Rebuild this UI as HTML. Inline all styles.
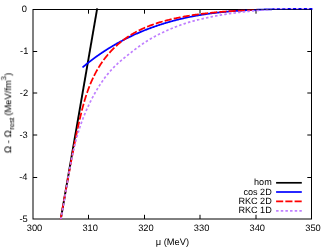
<!DOCTYPE html>
<html><head><meta charset="utf-8"><style>
html,body{margin:0;padding:0;background:#fff;width:332px;height:249px;overflow:hidden;font-family:"Liberation Sans",sans-serif;}
</style></head><body>
<svg width="332" height="249" viewBox="0 0 332 249" style="position:absolute;left:0;top:0">
<rect width="332" height="249" fill="#fff"/>
<filter id="b" x="0" y="0" width="332" height="249" filterUnits="userSpaceOnUse" color-interpolation-filters="sRGB"><feGaussianBlur stdDeviation="0.3"/></filter>
<g filter="url(#b)">
<rect width="332" height="249" fill="#fff"/>
<g stroke="#000" stroke-width="1" fill="none">
<rect x="33.0" y="9.5" width="278.5" height="209.5"/>
<path d="M88.50,219.0 v-4.2 M88.50,9.5 v4.2"/>
<path d="M144.50,219.0 v-4.2 M144.50,9.5 v4.2"/>
<path d="M200.00,219.0 v-4.2 M200.00,9.5 v4.2"/>
<path d="M256.00,219.0 v-4.2 M256.00,9.5 v4.2"/>
<path d="M33.0,51.50 h4.2 M311.5,51.50 h-4.2"/>
<path d="M33.0,93.00 h4.2 M311.5,93.00 h-4.2"/>
<path d="M33.0,135.00 h4.2 M311.5,135.00 h-4.2"/>
<path d="M33.0,177.50 h4.2 M311.5,177.50 h-4.2"/>
</g>
<g font-family="Liberation Sans, sans-serif" font-size="9.3" fill="#000" text-rendering="geometricPrecision">
<text x="34.50" y="231" text-anchor="middle">300</text>
<text x="90.20" y="231" text-anchor="middle">310</text>
<text x="145.90" y="231" text-anchor="middle">320</text>
<text x="201.60" y="231" text-anchor="middle">330</text>
<text x="257.30" y="231" text-anchor="middle">340</text>
<text x="313.00" y="231" text-anchor="middle">350</text>
<text x="27.0" y="11.70" text-anchor="end">0</text>
<text x="28.4" y="53.70" text-anchor="end">-1</text>
<text x="28.1" y="95.50" text-anchor="end">-2</text>
<text x="27.8" y="137.70" text-anchor="end">-3</text>
<text x="27.5" y="180.30" text-anchor="end">-4</text>
<text x="27.8" y="222.20" text-anchor="end">-5</text>
<text x="172.4" y="244.5" text-anchor="middle">μ (MeV)</text>
<text transform="translate(11.2,153.4) rotate(-90)" text-anchor="start"><tspan x="0.2" y="0" font-size="9.6">Ω - Ω</tspan><tspan x="23.6" y="2.7" font-size="7.4">rest</tspan><tspan x="37.7" y="0" font-size="9.4">(MeV/fm</tspan><tspan x="72.9" y="-5" font-size="7.4">3</tspan><tspan x="77.5" y="0" font-size="9.4">)</tspan></text>
<text x="271.75" y="184.95" text-anchor="end" font-size="9.1">hom</text>
<text x="271.75" y="195.00" text-anchor="end" font-size="9.1">cos 2D</text>
<text x="271.75" y="204.30" text-anchor="end" font-size="9.1">RKC 2D</text>
<text x="271.75" y="212.80" text-anchor="end" font-size="9.1">RKC 1D</text>
</g>
<clipPath id="c"><rect x="32" y="8" width="282" height="211.5"/></clipPath>
<g fill="none" stroke-width="1.75" clip-path="url(#c)">
<path d="M60.80,219.00 L97.20,8.30" stroke="#000" stroke-width="1.9"/>
<path d="M82.46,67.45 L82.94,67.05 L83.41,66.65 L83.89,66.25 L84.37,65.85 L84.85,65.46 L85.33,65.06 L85.81,64.67 L86.29,64.28 L86.77,63.89 L87.26,63.50 L87.74,63.11 L88.23,62.73 L88.71,62.35 L89.20,61.96 L89.69,61.58 L90.18,61.20 L90.67,60.83 L91.16,60.45 L91.65,60.08 L92.14,59.71 L92.64,59.34 L93.13,58.97 L93.62,58.60 L94.12,58.23 L94.62,57.87 L95.12,57.50 L95.61,57.14 L96.11,56.78 L96.61,56.42 L97.11,56.07 L97.62,55.71 L98.12,55.36 L98.62,55.01 L99.13,54.66 L99.63,54.31 L100.14,53.96 L100.64,53.61 L101.15,53.27 L101.66,52.92 L102.17,52.58 L102.68,52.24 L103.19,51.90 L103.70,51.57 L104.21,51.23 L104.73,50.90 L105.24,50.57 L105.76,50.23 L106.27,49.90 L106.79,49.58 L107.30,49.25 L107.82,48.93 L108.34,48.60 L108.86,48.28 L109.38,47.96 L109.90,47.64 L110.42,47.32 L110.95,47.01 L111.47,46.69 L111.99,46.38 L112.52,46.07 L113.04,45.76 L113.57,45.45 L114.10,45.14 L114.62,44.84 L115.15,44.53 L115.68,44.23 L116.21,43.93 L116.74,43.63 L117.27,43.33 L117.80,43.04 L118.34,42.74 L118.87,42.45 L119.40,42.16 L119.94,41.86 L120.47,41.58 L121.01,41.29 L121.55,41.00 L122.09,40.72 L122.62,40.43 L123.16,40.15 L123.70,39.87 L124.24,39.59 L124.78,39.31 L125.32,39.04 L125.87,38.76 L126.41,38.49 L126.95,38.22 L127.50,37.95 L128.04,37.68 L128.59,37.41 L129.13,37.15 L129.68,36.88 L130.23,36.62 L130.78,36.36 L131.32,36.10 L131.87,35.84 L132.42,35.58 L132.97,35.33 L133.53,35.07 L134.08,34.82 L134.63,34.57 L135.18,34.32 L135.74,34.07 L136.29,33.82 L136.85,33.58 L137.40,33.33 L137.96,33.09 L138.51,32.85 L139.07,32.61 L139.63,32.37 L140.19,32.13 L140.75,31.90 L141.31,31.66 L141.87,31.43 L142.43,31.20 L142.99,30.97 L143.55,30.74 L144.11,30.51 L144.68,30.29 L145.24,30.06 L145.80,29.84 L146.37,29.62 L146.93,29.40 L147.50,29.18 L148.06,28.96 L148.63,28.74 L149.20,28.53 L149.77,28.32 L150.34,28.10 L150.90,27.89 L151.47,27.68 L152.04,27.48 L152.61,27.27 L153.18,27.07 L153.76,26.86 L154.33,26.66 L154.90,26.46 L155.47,26.26 L156.05,26.06 L156.62,25.87 L157.20,25.67 L157.77,25.48 L158.35,25.28 L158.92,25.09 L159.50,24.90 L160.08,24.71 L160.65,24.53 L161.23,24.34 L161.81,24.16 L162.39,23.97 L162.97,23.79 L163.55,23.61 L164.13,23.43 L164.71,23.26 L165.29,23.08 L165.87,22.90 L166.45,22.73 L167.03,22.56 L167.62,22.39 L168.20,22.22 L168.78,22.05 L169.37,21.88 L169.95,21.72 L170.54,21.55 L171.12,21.39 L171.71,21.23 L172.29,21.07 L172.88,20.91 L173.47,20.75 L174.05,20.60 L174.64,20.44 L175.23,20.29 L175.82,20.14 L176.41,19.99 L177.00,19.84 L177.59,19.69 L178.18,19.54 L178.77,19.40 L179.36,19.25 L179.95,19.11 L180.54,18.97 L181.13,18.83 L181.72,18.69 L182.32,18.55 L182.91,18.41 L183.50,18.28 L184.10,18.15 L184.69,18.01 L185.28,17.88 L185.88,17.75 L186.47,17.62 L187.07,17.50 L187.66,17.37 L188.26,17.25 L188.86,17.12 L189.45,17.00 L190.05,16.88 L190.65,16.76 L191.24,16.64 L191.84,16.53 L192.44,16.41 L193.04,16.30 L193.64,16.18 L194.24,16.07 L194.84,15.96 L195.43,15.85 L196.03,15.74 L196.63,15.64 L197.24,15.53 L197.84,15.43 L198.44,15.32 L199.04,15.22 L199.64,15.12 L200.24,15.02 L200.84,14.92 L201.45,14.82 L202.05,14.73 L202.65,14.63 L203.25,14.54 L203.86,14.44 L204.46,14.35 L205.06,14.26 L205.67,14.17 L206.27,14.08 L206.88,13.99 L207.48,13.91 L208.09,13.82 L208.69,13.74 L209.30,13.66 L209.90,13.57 L210.51,13.49 L211.11,13.41 L211.72,13.33 L212.33,13.25 L212.93,13.18 L213.54,13.10 L214.15,13.03 L214.75,12.95 L215.36,12.88 L215.97,12.81 L216.57,12.73 L217.18,12.66 L217.79,12.59 L218.40,12.53 L219.01,12.46 L219.61,12.39 L220.22,12.33 L220.83,12.26 L221.44,12.20 L222.05,12.13 L222.66,12.07 L223.27,12.01 L223.88,11.95 L224.49,11.89 L225.10,11.83 L225.71,11.77 L226.32,11.72 L226.93,11.66 L227.54,11.60 L228.15,11.55 L228.76,11.49 L229.37,11.44 L229.98,11.39 L230.59,11.34 L231.20,11.29 L231.81,11.24 L232.42,11.19 L233.03,11.14 L233.64,11.09 L234.26,11.04 L234.87,11.00 L235.48,10.95 L236.09,10.91 L236.70,10.86 L237.31,10.82 L237.93,10.78 L238.54,10.73 L239.15,10.69 L239.76,10.65 L240.37,10.61 L240.98,10.57 L241.60,10.53 L242.21,10.50 L242.82,10.46 L243.43,10.42 L244.05,10.38 L244.66,10.35 L245.27,10.31 L245.88,10.28 L246.49,10.24 L247.11,10.21 L247.72,10.18 L248.33,10.15 L248.94,10.11 L249.56,10.08 L250.17,10.05 L250.78,10.02 L251.39,9.99 L252.01,9.96 L252.62,9.93 L253.23,9.91 L253.84,9.88 L254.46,9.85 L255.07,9.82 L255.68,9.80 L256.29,9.77 L256.90,9.75 L257.52,9.72 L258.13,9.70 L258.74,9.67 L259.35,9.65 L259.97,9.63 L260.58,9.60 L261.19,9.58 L261.80,9.56 L262.41,9.54 L263.02,9.52 L263.64,9.50 L264.25,9.48 L264.86,9.46 L265.47,9.44 L266.08,9.42 L266.69,9.40 L267.31,9.38 L267.92,9.36 L268.53,9.35 L269.14,9.33 L269.75,9.31 L270.36,9.30 L270.97,9.28 L271.58,9.27 L272.19,9.25 L272.80,9.24 L273.41,9.22 L274.02,9.21 L274.63,9.19 L275.24,9.18 L275.85,9.17 L276.46,9.16 L277.07,9.14 L277.68,9.13 L278.29,9.12 L278.90,9.11 L279.51,9.10 L280.12,9.09 L280.72,9.07 L281.33,9.06 L281.94,9.05 L282.55,9.04 L283.16,9.03 L283.76,9.03 L284.37,9.02 L284.98,9.01 L285.59,9.00 L286.19,8.99 L286.80,8.98 L287.41,8.98 L288.01,8.97 L288.62,8.96 L289.23,8.95 L289.83,8.95 L290.44,8.94 L291.04,8.93 L291.65,8.93 L292.25,8.92 L292.86,8.91 L293.46,8.91 L294.07,8.90 L294.67,8.90 L295.28,8.89 L295.88,8.89 L296.48,8.88 L297.09,8.88 L297.69,8.87 L298.29,8.87 L298.89,8.87 L299.50,8.86 L300.10,8.86 L300.70,8.85 L301.30,8.85 L301.90,8.85 L302.50,8.84 L303.10,8.84 L303.71,8.84 L304.31,8.83 L304.91,8.83 L305.50,8.83 L306.10,8.82 L306.70,8.82 L307.30,8.82 L307.90,8.82 L308.50,8.81 L309.10,8.81 L309.69,8.81 L310.29,8.81 L310.89,8.80 L311.48,8.80 L312.08,8.80 L312.68,8.80" stroke="#0000ff"/>
<path d="M60.64,219.58 L60.79,218.75 L60.93,217.91 L61.07,217.08 L61.21,216.25 L61.36,215.41 L61.50,214.58 L61.65,213.75 L61.79,212.92 L61.94,212.09 L62.08,211.26 L62.23,210.43 L62.37,209.60 L62.52,208.77 L62.67,207.94 L62.81,207.11 L62.96,206.28 L63.11,205.45 L63.25,204.62 L63.40,203.80 L63.55,202.97 L63.70,202.14 L63.84,201.31 L63.99,200.49 L64.14,199.66 L64.29,198.84 L64.44,198.01 L64.59,197.19 L64.74,196.36 L64.88,195.54 L65.03,194.71 L65.18,193.89 L65.33,193.06 L65.48,192.24 L65.63,191.42 L65.78,190.59 L65.93,189.77 L66.08,188.95 L66.23,188.12 L66.38,187.30 L66.53,186.48 L66.68,185.66 L66.83,184.84 L66.98,184.02 L67.13,183.19 L67.28,182.37 L67.43,181.55 L67.58,180.73 L67.74,179.91 L67.89,179.09 L68.04,178.27 L68.19,177.45 L68.34,176.63 L68.49,175.81 L68.64,174.99 L68.79,174.17 L68.94,173.35 L69.09,172.54 L69.24,171.72 L69.39,170.90 L69.54,170.08 L69.69,169.26 L69.84,168.44 L69.99,167.62 L70.14,166.81 L70.29,165.99 L70.44,165.17 L70.60,164.35 L70.75,163.54 L70.90,162.72 L71.05,161.90 L71.20,161.08 L71.35,160.27 L71.51,159.45 L71.66,158.63 L71.81,157.81 L71.97,157.00 L72.12,156.18 L72.28,155.36 L72.43,154.55 L72.59,153.73 L72.74,152.91 L72.90,152.09 L73.05,151.28 L73.21,150.46 L73.37,149.64 L73.53,148.83 L73.69,148.01 L73.84,147.19 L74.00,146.38 L74.17,145.56 L74.33,144.74 L74.49,143.93 L74.65,143.11 L74.81,142.29 L74.98,141.47 L75.14,140.66 L75.31,139.84 L75.47,139.02 L75.64,138.21 L75.81,137.39 L75.97,136.57 L76.14,135.75 L76.31,134.94 L76.48,134.12 L76.66,133.30 L76.83,132.48 L77.00,131.66 L77.18,130.85 L77.35,130.03 L77.53,129.21 L77.70,128.39 L77.88,127.57 L78.06,126.75 L78.24,125.94 L78.42,125.12 L78.60,124.30 L78.79,123.48 L78.97,122.66 L79.16,121.84 L79.35,121.02 L79.53,120.20 L79.72,119.38 L79.91,118.56 L80.10,117.74 L80.30,116.92 L80.49,116.10 L80.69,115.28 L80.89,114.46 L81.09,113.64 L81.29,112.82 L81.49,112.00 L81.69,111.19 L81.90,110.37 L82.11,109.55 L82.32,108.73 L82.54,107.92 L82.75,107.10 L82.97,106.28 L83.19,105.47 L83.41,104.66 L83.64,103.84 L83.87,103.03 L84.10,102.22 L84.34,101.41 L84.57,100.60 L84.81,99.79 L85.06,98.99 L85.30,98.18 L85.55,97.38 L85.81,96.57 L86.06,95.77 L86.32,94.97 L86.59,94.17 L86.85,93.38 L87.13,92.58 L87.40,91.79 L87.68,91.00 L87.96,90.21 L88.25,89.42 L88.54,88.63 L88.83,87.85 L89.13,87.07 L89.44,86.28 L89.74,85.51 L90.06,84.73 L90.37,83.96 L90.70,83.18 L91.02,82.42 L91.35,81.65 L91.69,80.88 L92.03,80.12 L92.37,79.36 L92.72,78.61 L93.08,77.85 L93.44,77.10 L93.80,76.35 L94.17,75.60 L94.55,74.86 L94.92,74.12 L95.31,73.38 L95.70,72.65 L96.09,71.92 L96.49,71.19 L96.90,70.47 L97.31,69.74 L97.72,69.03 L98.14,68.31 L98.57,67.60 L99.00,66.89 L99.44,66.19 L99.88,65.49 L100.32,64.79 L100.78,64.09 L101.24,63.40 L101.70,62.72 L102.17,62.04 L102.64,61.36 L103.12,60.68 L103.61,60.01 L104.10,59.35 L104.60,58.68 L105.10,58.02 L105.61,57.37 L106.13,56.72 L106.65,56.08 L107.18,55.43 L107.71,54.80 L108.25,54.17 L108.79,53.54 L109.34,52.91 L109.89,52.30 L110.45,51.68 L111.02,51.07 L111.59,50.47 L112.17,49.87 L112.75,49.27 L113.34,48.68 L113.94,48.10 L114.53,47.52 L115.14,46.94 L115.75,46.37 L116.36,45.81 L116.99,45.25 L117.61,44.69 L118.24,44.14 L118.88,43.60 L119.52,43.06 L120.16,42.53 L120.81,42.00 L121.47,41.48 L122.13,40.96 L122.79,40.45 L123.46,39.94 L124.13,39.44 L124.81,38.95 L125.49,38.46 L126.18,37.98 L126.87,37.50 L127.56,37.03 L128.26,36.56 L128.96,36.10 L129.67,35.65 L130.37,35.20 L131.09,34.76 L131.80,34.33 L132.52,33.90 L133.24,33.48 L133.97,33.06 L134.70,32.65 L135.43,32.25 L136.17,31.85 L136.91,31.46 L137.65,31.07 L138.39,30.70 L139.14,30.32 L139.89,29.96 L140.64,29.59 L141.40,29.24 L142.15,28.89 L142.91,28.54 L143.68,28.20 L144.44,27.87 L145.21,27.54 L145.98,27.22 L146.75,26.90 L147.53,26.59 L148.30,26.28 L149.08,25.98 L149.86,25.68 L150.65,25.38 L151.43,25.10 L152.22,24.81 L153.01,24.53 L153.80,24.26 L154.59,23.99 L155.38,23.72 L156.18,23.46 L156.98,23.20 L157.78,22.95 L158.57,22.70 L159.38,22.45 L160.18,22.21 L160.98,21.97 L161.79,21.74 L162.59,21.51 L163.40,21.28 L164.21,21.06 L165.02,20.84 L165.83,20.63 L166.64,20.41 L167.45,20.20 L168.26,20.00 L169.08,19.80 L169.89,19.60 L170.71,19.40 L171.52,19.21 L172.34,19.01 L173.15,18.83 L173.97,18.64 L174.79,18.46 L175.61,18.28 L176.42,18.10 L177.24,17.93 L178.06,17.76 L178.88,17.59 L179.70,17.42 L180.52,17.26 L181.34,17.10 L182.17,16.94 L182.99,16.78 L183.81,16.63 L184.63,16.48 L185.46,16.33 L186.28,16.19 L187.11,16.04 L187.93,15.90 L188.76,15.76 L189.58,15.63 L190.41,15.49 L191.23,15.36 L192.06,15.23 L192.89,15.11 L193.71,14.98 L194.54,14.86 L195.37,14.74 L196.20,14.62 L197.03,14.50 L197.85,14.39 L198.68,14.27 L199.51,14.16 L200.34,14.05 L201.17,13.95 L202.00,13.84 L202.83,13.74 L203.66,13.64 L204.49,13.54 L205.33,13.44 L206.16,13.34 L206.99,13.25 L207.82,13.16 L208.65,13.07 L209.48,12.98 L210.32,12.89 L211.15,12.80 L211.98,12.72 L212.81,12.63 L213.65,12.55 L214.48,12.47 L215.31,12.39 L216.15,12.32 L216.98,12.24 L217.81,12.16 L218.65,12.09 L219.48,12.02 L220.31,11.95 L221.15,11.88 L221.98,11.81 L222.82,11.74 L223.65,11.68 L224.48,11.61 L225.32,11.55 L226.15,11.48 L226.99,11.42 L227.82,11.36 L228.65,11.30 L229.49,11.24 L230.32,11.18 L231.16,11.12 L231.99,11.07 L232.82,11.01 L233.66,10.96 L234.49,10.90 L235.33,10.85 L236.16,10.80 L236.99,10.74 L237.83,10.69 L238.66,10.64 L239.49,10.59 L240.33,10.54 L241.16,10.49 L241.99,10.44 L242.82,10.39 L243.66,10.35 L244.49,10.30 L245.32,10.25 L246.15,10.20 L246.99,10.16 L247.82,10.11 L248.65,10.06 L249.48,10.02 L250.31,9.97 L251.14,9.93 L251.97,9.88 L252.80,9.84 L253.63,9.79 L254.46,9.75 L255.29,9.70 L256.12,9.66 L256.95,9.61" stroke="#ff0000" stroke-dasharray="7.1,2.15"/>
<path d="M60.80,219.43 L60.99,218.51 L61.17,217.59 L61.35,216.67 L61.53,215.75 L61.71,214.83 L61.89,213.90 L62.06,212.98 L62.24,212.06 L62.41,211.13 L62.58,210.20 L62.75,209.28 L62.92,208.35 L63.09,207.42 L63.25,206.49 L63.42,205.56 L63.58,204.63 L63.75,203.70 L63.91,202.77 L64.07,201.84 L64.23,200.91 L64.39,199.98 L64.55,199.05 L64.71,198.11 L64.87,197.18 L65.02,196.25 L65.18,195.31 L65.34,194.38 L65.50,193.45 L65.65,192.51 L65.81,191.58 L65.96,190.64 L66.12,189.71 L66.28,188.77 L66.43,187.84 L66.59,186.90 L66.74,185.97 L66.90,185.03 L67.06,184.10 L67.22,183.16 L67.37,182.23 L67.53,181.29 L67.69,180.36 L67.85,179.42 L68.01,178.49 L68.17,177.55 L68.33,176.62 L68.50,175.68 L68.66,174.75 L68.82,173.81 L68.99,172.88 L69.16,171.94 L69.32,171.01 L69.49,170.08 L69.66,169.14 L69.84,168.21 L70.01,167.28 L70.18,166.35 L70.36,165.42 L70.54,164.48 L70.72,163.55 L70.90,162.62 L71.08,161.69 L71.27,160.76 L71.45,159.84 L71.64,158.91 L71.83,157.98 L72.03,157.05 L72.22,156.13 L72.42,155.20 L72.62,154.27 L72.82,153.35 L73.02,152.43 L73.23,151.50 L73.44,150.58 L73.65,149.66 L73.87,148.74 L74.08,147.82 L74.30,146.90 L74.53,145.98 L74.75,145.06 L74.98,144.15 L75.21,143.23 L75.45,142.32 L75.69,141.40 L75.93,140.49 L76.17,139.58 L76.42,138.67 L76.67,137.76 L76.92,136.85 L77.18,135.94 L77.44,135.04 L77.71,134.13 L77.98,133.23 L78.25,132.32 L78.53,131.42 L78.81,130.52 L79.09,129.62 L79.38,128.72 L79.67,127.83 L79.97,126.93 L80.27,126.04 L80.57,125.14 L80.88,124.25 L81.20,123.36 L81.51,122.47 L81.84,121.58 L82.16,120.70 L82.49,119.81 L82.83,118.93 L83.17,118.05 L83.51,117.17 L83.86,116.29 L84.21,115.41 L84.57,114.54 L84.93,113.67 L85.29,112.79 L85.66,111.92 L86.03,111.05 L86.41,110.19 L86.79,109.32 L87.18,108.46 L87.57,107.60 L87.97,106.74 L88.37,105.88 L88.77,105.02 L89.18,104.17 L89.59,103.31 L90.00,102.46 L90.42,101.61 L90.85,100.77 L91.28,99.92 L91.71,99.08 L92.15,98.23 L92.59,97.39 L93.04,96.56 L93.49,95.72 L93.94,94.89 L94.40,94.06 L94.86,93.23 L95.33,92.40 L95.80,91.58 L96.28,90.76 L96.76,89.94 L97.25,89.12 L97.74,88.31 L98.24,87.50 L98.74,86.69 L99.24,85.89 L99.75,85.09 L100.27,84.30 L100.79,83.51 L101.32,82.72 L101.85,81.94 L102.39,81.16 L102.93,80.38 L103.48,79.61 L104.04,78.85 L104.60,78.09 L105.17,77.33 L105.74,76.58 L106.32,75.84 L106.90,75.10 L107.49,74.36 L108.09,73.64 L108.69,72.91 L109.30,72.20 L109.92,71.48 L110.54,70.78 L111.17,70.08 L111.81,69.39 L112.45,68.70 L113.10,68.02 L113.76,67.35 L114.42,66.69 L115.09,66.03 L115.77,65.38 L116.45,64.73 L117.14,64.09 L117.83,63.45 L118.53,62.82 L119.24,62.20 L119.94,61.58 L120.66,60.96 L121.38,60.35 L122.10,59.74 L122.82,59.13 L123.55,58.53 L124.28,57.93 L125.01,57.33 L125.75,56.74 L126.49,56.14 L127.23,55.55 L127.97,54.96 L128.71,54.37 L129.46,53.78 L130.20,53.19 L130.95,52.60 L131.69,52.02 L132.44,51.43 L133.19,50.85 L133.95,50.27 L134.70,49.69 L135.45,49.12 L136.21,48.54 L136.97,47.97 L137.73,47.41 L138.50,46.85 L139.27,46.29 L140.03,45.73 L140.81,45.18 L141.58,44.64 L142.36,44.10 L143.14,43.57 L143.93,43.04 L144.71,42.52 L145.51,42.00 L146.30,41.49 L147.10,40.98 L147.90,40.48 L148.70,39.99 L149.51,39.50 L150.32,39.02 L151.14,38.54 L151.95,38.07 L152.77,37.60 L153.59,37.14 L154.42,36.69 L155.25,36.24 L156.08,35.79 L156.91,35.35 L157.75,34.92 L158.59,34.49 L159.43,34.07 L160.27,33.65 L161.12,33.23 L161.97,32.82 L162.82,32.42 L163.68,32.02 L164.53,31.62 L165.39,31.23 L166.26,30.84 L167.12,30.46 L167.98,30.08 L168.85,29.70 L169.72,29.33 L170.60,28.96 L171.47,28.59 L172.35,28.23 L173.22,27.87 L174.11,27.51 L174.99,27.16 L175.87,26.81 L176.76,26.47 L177.64,26.13 L178.53,25.80 L179.42,25.46 L180.32,25.14 L181.21,24.82 L182.11,24.50 L183.00,24.19 L183.90,23.88 L184.80,23.58 L185.70,23.28 L186.61,22.99 L187.51,22.71 L188.42,22.43 L189.32,22.15 L190.23,21.88 L191.14,21.62 L192.05,21.37 L192.96,21.11 L193.87,20.87 L194.79,20.63 L195.70,20.39 L196.61,20.15 L197.53,19.93 L198.45,19.70 L199.36,19.48 L200.28,19.26 L201.20,19.04 L202.12,18.83 L203.04,18.62 L203.96,18.41 L204.88,18.20 L205.80,18.00 L206.72,17.80 L207.65,17.61 L208.57,17.41 L209.50,17.22 L210.42,17.03 L211.35,16.84 L212.27,16.66 L213.20,16.48 L214.12,16.30 L215.05,16.12 L215.98,15.95 L216.91,15.78 L217.84,15.61 L218.77,15.44 L219.70,15.28 L220.63,15.12 L221.56,14.96 L222.49,14.80 L223.42,14.65 L224.36,14.50 L225.29,14.35 L226.22,14.20 L227.16,14.06 L228.09,13.91 L229.03,13.77 L229.96,13.63 L230.90,13.50 L231.83,13.36 L232.77,13.23 L233.71,13.10 L234.64,12.97 L235.58,12.85 L236.52,12.73 L237.46,12.60 L238.40,12.48 L239.34,12.37 L240.27,12.25 L241.21,12.14 L242.15,12.03 L243.10,11.92 L244.04,11.81 L244.98,11.70 L245.92,11.60 L246.86,11.50 L247.80,11.40 L248.74,11.30 L249.69,11.20 L250.63,11.11 L251.57,11.02 L252.51,10.92 L253.46,10.83 L254.40,10.75 L255.34,10.66 L256.29,10.58 L257.23,10.49 L258.18,10.41 L259.12,10.33 L260.06,10.25 L261.01,10.18 L261.95,10.10 L262.90,10.03 L263.84,9.96 L264.79,9.89 L265.73,9.82 L266.68,9.75 L267.62,9.68 L268.57,9.62 L269.52,9.56 L270.46,9.50 L271.41,9.44" stroke="#c080ff" stroke-width="1.7" stroke-dasharray="2.5,2.15"/>
<path d="M274.5,8.5 H313" stroke="#dca8ff" stroke-width="1.3" stroke-dasharray="2.4,3"/>
<path d="M222,9.5 H311.5" stroke="#000" stroke-width="1" opacity="0.55"/>
</g>
<g fill="none" stroke-width="1.7">
<path d="M276.1,182.8 H301.8" stroke="#000"/>
<path d="M276.1,192.0 H301.8" stroke="#0000ff"/>
<path d="M276.1,201.4 H301.8" stroke="#ff0000" stroke-dasharray="7.1,2.15"/>
<path d="M276.1,210.8 H301.8" stroke="#c080ff" stroke-width="1.7" stroke-dasharray="2.5,2.15"/>
</g>
</g>
</svg>
</body></html>
